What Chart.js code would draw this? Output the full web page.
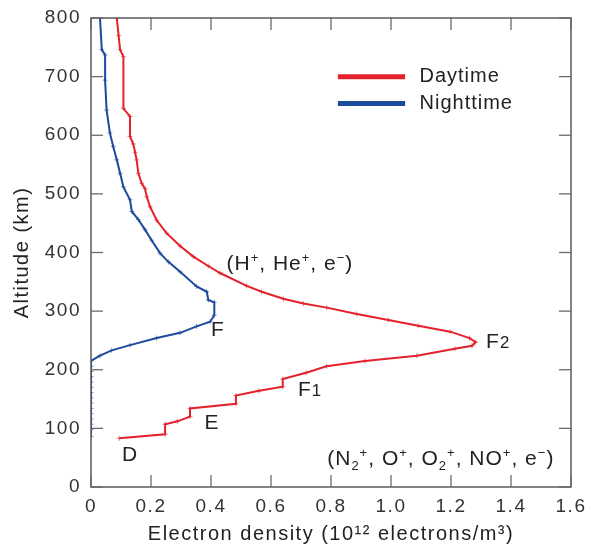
<!DOCTYPE html>
<html><head><meta charset="utf-8">
<script src="https://cdn.jsdelivr.net/npm/chart.js@4.4.1/dist/chart.umd.min.js"></script>
<style>html,body{margin:0;padding:0;background:#fff;}#wrap{width:592px;height:550px;}</style>
</head><body><div id="wrap"><canvas id="c" width="592" height="550"></canvas></div>
<script>
const seriesNames = ['Daytime', 'Nighttime'];
const xTicks = [0, 0.2, 0.4, 0.6, 0.8, 1.0, 1.2, 1.4, 1.6];
const xTickLabels = ['0', '0.2', '0.4', '0.6', '0.8', '1.0', '1.2', '1.4', '1.6'];
const yTicks = [0, 100, 200, 300, 400, 500, 600, 700, 800];

const dayDensity = [0.094,0.247,0.247,0.288,0.33,0.33,0.483,0.483,0.56,0.639,0.639,0.717,0.785,0.913,1.086,1.213,1.27,1.282,1.262,1.197,1.091,0.991,0.886,0.786,0.708,0.641,0.569,0.519,0.43,0.391,0.341,0.297,0.252,0.219,0.197,0.186,0.18,0.169,0.158,0.152,0.147,0.141,0.13,0.13,0.108,0.108,0.097,0.092,0.086];
const dayAltitude = [83,90,107,112,120,134,142,156,164,171,184,195,206,215,224,236,241,247,254,265,275,285,295,306,313,321,333,343,365,377,393,411,433,455,478,495,509,518,535,558,571,585,598,632,646,734,746,770,800];

const nightDensity = [0.03,0.036,0.047,0.047,0.052,0.063,0.074,0.086,0.097,0.108,0.13,0.136,0.158,0.18,0.202,0.23,0.258,0.297,0.352,0.386,0.391,0.411,0.411,0.397,0.352,0.297,0.219,0.13,0.069,0.03,0,0,0,0,0,0,0,0,0,0,0,0,0,0,0];
const nightAltitude = [800,746,737,694,643,604,581,558,535,512,490,470,456,439,421,399,384,367,342,333,319,315,293,282,274,263,254,242,233,224,215,206,197,188,179,170,161,152,143,134,125,116,107,98,86];

const RED = '#e3222b', BLUE = '#1d4b9b';
const FONT = '"Liberation Sans", Arial, sans-serif';

function toPts(xs, ys){ return xs.map((x,i)=>({x:x, y:ys[i]})); }

function drawRich(ctx, segs, x, y, size, align){
  ctx.letterSpacing = '1px';
  const fsOf = s => s[1]==='n' ? size : (s[1]==='low' ? size*0.8 : size*0.62);
  const widths = segs.map(s=>{ ctx.font = fsOf(s) + 'px ' + FONT; return ctx.measureText(s[0]).width; });
  const total = widths.reduce((a,b)=>a+b,0);
  let cx = align==='center' ? x-total/2 : (align==='right'? x-total : x);
  ctx.textAlign='left'; ctx.textBaseline='alphabetic';
  segs.forEach((s,i)=>{
    ctx.font = fsOf(s) + 'px ' + FONT;
    let dy = 0;
    if (s[1]==='sup') dy = -size*0.38;
    if (s[1]==='sub') dy = size*0.22;
    ctx.fillText(s[0], cx, y+dy);
    cx += widths[i];
  });
}

const spacing = {
  id:'spacing',
  beforeLayout(chart){ chart.ctx.letterSpacing = '1.5px'; },
  beforeDraw(chart){ chart.ctx.letterSpacing = '1.5px'; }
};

const decor = {
  id:'decor',
  afterDraw(chart){
    const ctx = chart.ctx, xs = chart.scales.x, ys = chart.scales.y, a = chart.chartArea;
    ctx.save();
    ctx.strokeStyle = '#5a5a5a'; ctx.lineWidth = 1.5;
    ctx.strokeRect(a.left, a.top, a.right-a.left, a.bottom-a.top);
    ctx.lineWidth = 1.3; ctx.strokeStyle='#6a6a6a';
    const L = 12;
    xTicks.forEach(v=>{
      const px = xs.getPixelForValue(v);
      ctx.beginPath(); ctx.moveTo(px, a.bottom); ctx.lineTo(px, a.bottom-L); ctx.stroke();
      ctx.beginPath(); ctx.moveTo(px, a.top); ctx.lineTo(px, a.top+L); ctx.stroke();
    });
    yTicks.forEach(v=>{
      const py = ys.getPixelForValue(v);
      ctx.beginPath(); ctx.moveTo(a.left, py); ctx.lineTo(a.left+L, py); ctx.stroke();
      ctx.beginPath(); ctx.moveTo(a.right, py); ctx.lineTo(a.right-L, py); ctx.stroke();
    });
    // legend
    const cols = [RED, BLUE];
    const ly = [700, 654];
    seriesNames.forEach((n,i)=>{
      const py = ys.getPixelForValue(ly[i]);
      ctx.strokeStyle = cols[i]; ctx.lineWidth = 5;
      ctx.beginPath(); ctx.moveTo(xs.getPixelForValue(0.823), py); ctx.lineTo(xs.getPixelForValue(1.047), py); ctx.stroke();
      ctx.fillStyle = '#222'; ctx.letterSpacing = '1px'; ctx.font = '20px ' + FONT; ctx.textAlign='left'; ctx.textBaseline='middle';
      ctx.fillText(n, xs.getPixelForValue(1.095), py);
    });
    ctx.fillStyle = '#222';
    const P = (x,y)=>[xs.getPixelForValue(x), ys.getPixelForValue(y)];
    let p;
    const S = 21;
    p = P(0.663, 371); drawRich(ctx, [['(H','n'],['+','sup'],[', He','n'],['+','sup'],[', e','n'],['\u2212','sup'],[')','n']], p[0], p[1], S, 'center');
    p = P(0.423, 257); drawRich(ctx, [['F','n']], p[0], p[1], S, 'center');
    p = P(1.317, 237); drawRich(ctx, [['F','n'],['2','low']], p[0], p[1], S, 'left');
    p = P(0.69, 155); drawRich(ctx, [['F','n'],['1','low']], p[0], p[1], S, 'left');
    p = P(0.403, 99); drawRich(ctx, [['E','n']], p[0], p[1], S, 'center');
    p = P(0.13, 44); drawRich(ctx, [['D','n']], p[0], p[1], S, 'center');
    p = P(1.166, 37); drawRich(ctx, [['(N','n'],['2','sub'],['+','sup'],[', O','n'],['+','sup'],[', O','n'],['2','sub'],['+','sup'],[', NO','n'],['+','sup'],[', e','n'],['\u2212','sup'],[')','n']], p[0], p[1], S, 'center');
    ctx.restore();
  }
};

new Chart(document.getElementById('c'), {
  type:'scatter',
  data:{ datasets:[
    { label: seriesNames[0], data: toPts(dayDensity, dayAltitude), showLine:true, borderColor:RED, backgroundColor:RED, borderWidth:2, tension:0,
      pointStyle:'cross', pointRadius:2.5, pointBorderWidth:1, pointBorderColor:'rgba(227,34,43,0.6)' },
    { label: seriesNames[1], data: toPts(nightDensity, nightAltitude), showLine:true, borderColor:BLUE, backgroundColor:BLUE, borderWidth:2, tension:0,
      pointStyle:'cross', pointRadius:2.5, pointBorderWidth:1, pointBorderColor:'rgba(29,75,155,0.6)' }
  ]},
  options:{
    responsive:false, animation:false, devicePixelRatio:1,
    layout:{ padding:{ top:18, right:21, left:0, bottom:0 } },
    plugins:{ legend:{display:false}, tooltip:{enabled:false} },
    scales:{
      x:{ type:'linear', min:0, max:1.6,
        afterBuildTicks(s){ s.ticks = xTicks.map(v=>({value:v})); },
        afterFit(s){ s.height = 63; },
        grid:{ display:false }, border:{ display:false },
        ticks:{ padding:0, color:'#333', font:{ family:FONT, size:19 }, maxRotation:0,
          callback:(v)=>{ const i = xTicks.indexOf(v); return i>=0 ? xTickLabels[i] : ''; } },
        title:{ display:true, text:'Electron density (10\u00B9\u00B2 electrons/m\u00B3)', color:'#222', font:{ family:FONT, size:20 }, padding:{top:9} }
      },
      y:{ type:'linear', min:0, max:800,
        afterBuildTicks(s){ s.ticks = yTicks.map(v=>({value:v})); },
        afterFit(s){ s.width = 91; },
        grid:{ display:false }, border:{ display:false },
        ticks:{ padding:2, color:'#333', font:{ family:FONT, size:19 } },
        title:{ display:true, text:'Altitude (km)', color:'#222', font:{ family:FONT, size:20 }, padding:{top:10, bottom:0} }
      }
    }
  },
  plugins:[spacing, decor]
});
</script></body></html>
